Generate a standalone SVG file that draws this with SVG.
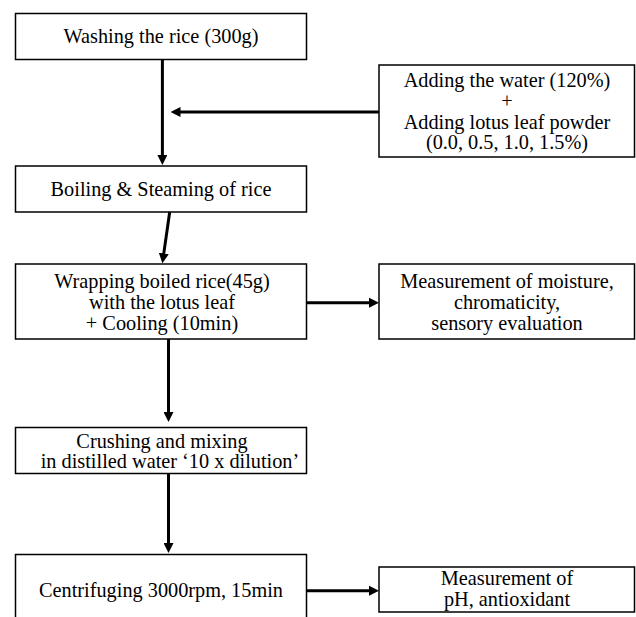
<svg xmlns="http://www.w3.org/2000/svg" width="636" height="617" viewBox="0 0 636 617">
<style>
.box{fill:#fff;stroke:#000;stroke-width:1.5}
.t{font-family:"Liberation Serif","Times New Roman",serif;font-size:20.3px;fill:#000;text-anchor:middle}
.c{stroke:#000;stroke-width:3;fill:none;marker-end:url(#ah)}
</style>
<defs>
<marker id="ah" viewBox="0 0 10 10" refX="2" refY="5" markerWidth="10" markerHeight="10" markerUnits="userSpaceOnUse" orient="auto">
<path d="M0,0 L10,5 L0,10 z" fill="#000"/>
</marker>
</defs>
<rect width="636" height="617" fill="#fff"/>
<g id="n1"><rect class="box" x="15.5" y="13.5" width="291" height="46"/><text class="t" x="161" y="43">Washing the rice (300g)</text></g>
<g id="n2"><rect class="box" x="379" y="65" width="255.5" height="92"/>
<text class="t" x="507" y="87">Adding the water (120%)</text>
<text class="t" x="507" y="108">+</text>
<text class="t" x="507" y="128.8">Adding lotus leaf powder</text>
<text class="t" x="507" y="149.3">(0.0, 0.5, 1.0, 1.5%)</text></g>
<g id="n3"><rect class="box" x="15.5" y="166" width="291" height="46"/><text class="t" x="161" y="196">Boiling &amp; Steaming of rice</text></g>
<g id="n4"><rect class="box" x="15.5" y="264" width="291" height="75"/>
<text class="t" x="162" y="288">Wrapping boiled rice(45g)</text>
<text class="t" x="162" y="308.5">with the lotus leaf</text>
<text class="t" x="162" y="330">+ Cooling (10min)</text></g>
<g id="n5"><rect class="box" x="379" y="264" width="255.5" height="75"/>
<text class="t" x="507" y="288">Measurement of moisture,</text>
<text class="t" x="507" y="308.5">chromaticity,</text>
<text class="t" x="507" y="330">sensory evaluation</text></g>
<g id="n6"><rect class="box" x="15.5" y="427.5" width="291" height="46"/>
<text class="t" x="162" y="447.5">Crushing and mixing</text>
<text class="t" x="170" y="468">in distilled water ‘10 x dilution’</text></g>
<g id="n7"><rect class="box" x="15.5" y="554.5" width="291" height="75"/><text class="t" x="161" y="597">Centrifuging 3000rpm, 15min</text></g>
<g id="n8"><rect class="box" x="379" y="567" width="255.5" height="45"/>
<text class="t" x="507" y="585">Measurement of</text>
<text class="t" x="507" y="605.5">pH, antioxidant</text></g>
<g id="connectors">
<line class="c" x1="162.4" y1="59.5" x2="162.4" y2="157"/>
<line class="c" x1="379" y1="112" x2="178.5" y2="112"/>
<line class="c" x1="169.7" y1="212" x2="163.5" y2="255.4"/>
<line class="c" x1="306.5" y1="302.7" x2="371" y2="302.7"/>
<line class="c" x1="168.5" y1="339" x2="168.5" y2="414"/>
<line class="c" x1="168.5" y1="473.5" x2="168.5" y2="545"/>
<line class="c" x1="306.5" y1="590.7" x2="371" y2="590.7"/>
</g>
</svg>
